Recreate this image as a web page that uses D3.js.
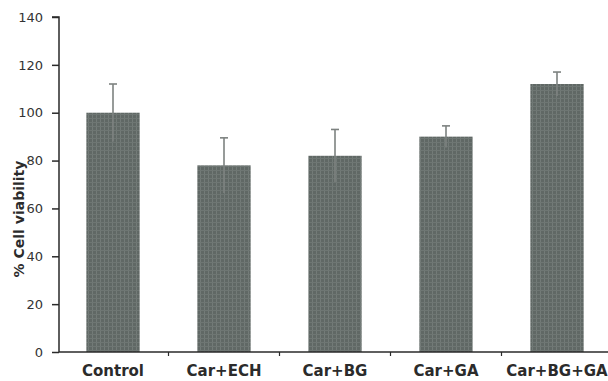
<!DOCTYPE html>
<html>
<head>
<meta charset="utf-8">
<script src="https://cdn.jsdelivr.net/npm/d3@7"></script>
<style>
  body { margin: 0; background: #fff; }
  svg { display: block; }
</style>
</head>
<body>
<svg id="chart" width="608" height="381"></svg>
<script>
// Cell viability per treatment group (mean ± SD)
const categories = ["Control", "Car+ECH", "Car+BG", "Car+GA", "Car+BG+GA"];
const means = [100, 78, 82, 90, 112];
const errors = [12, 11.5, 11, 4.5, 5];
const yTicks = [0, 20, 40, 60, 80, 100, 120, 140];

const svg = d3.select("#chart");
const axisX = 59;
const baseY = 352;
const font = "'DejaVu Sans', Verdana, sans-serif";

const x = d3.scaleBand()
  .domain(categories)
  .range([57.5, 612.5])
  .paddingInner(0.52)
  .paddingOuter(0.26);

const y = d3.scaleLinear().domain([0, 140]).range([baseY, 17]);

const barColor = "#606865";
const axisColor = "#2a2a2a";

// subtle halftone texture for bars
const defs = svg.append("defs");
const pat = defs.append("pattern")
  .attr("id", "tex").attr("width", 4).attr("height", 4)
  .attr("patternUnits", "userSpaceOnUse");
pat.append("rect").attr("width", 4).attr("height", 4).attr("fill", barColor);
pat.append("rect").attr("x", 0).attr("y", 0).attr("width", 1).attr("height", 4).attr("fill", "#737b78");
pat.append("rect").attr("x", 0).attr("y", 2).attr("width", 4).attr("height", 1).attr("fill", "#6e7673");

// bars
svg.selectAll("rect.bar")
  .data(categories)
  .join("rect")
  .attr("class", "bar")
  .attr("x", d => x(d))
  .attr("width", x.bandwidth())
  .attr("y", (d, i) => y(means[i]))
  .attr("height", (d, i) => baseY - y(means[i]))
  .attr("fill", "url(#tex)");

// error bars (upper whisker, drawn from inside the bar)
const errG = svg.append("g").attr("stroke", "#7d8280").attr("stroke-width", 1.6);
categories.forEach((c, i) => {
  const cx = x(c) + x.bandwidth() / 2;
  errG.append("line")
    .attr("x1", cx).attr("x2", cx)
    .attr("y1", y(means[i] - errors[i]))
    .attr("y2", y(means[i] + errors[i]));
  errG.append("line")
    .attr("x1", cx - 4).attr("x2", cx + 4)
    .attr("y1", y(means[i] + errors[i]))
    .attr("y2", y(means[i] + errors[i]));
});

// y axis
const yAxis = svg.append("g")
  .attr("transform", `translate(${axisX},0)`)
  .call(d3.axisLeft(y).tickValues(yTicks).tickSize(7).tickPadding(9));
yAxis.select(".domain").attr("stroke", axisColor).attr("stroke-width", 1.5)
  .attr("d", `M-7,${y(140)}H0V${baseY}`);
yAxis.selectAll(".tick line").attr("stroke", axisColor).attr("stroke-width", 1.5);
yAxis.selectAll(".tick text")
  .attr("fill", "#333")
  .style("font-family", font)
  .style("font-size", "13px");

// x axis
const boundaries = categories.map(c => x(c) + x.bandwidth() + x.step() * x.paddingInner() / 2);
const xAxisG = svg.append("g");
xAxisG.append("line")
  .attr("x1", axisX).attr("x2", 608)
  .attr("y1", baseY).attr("y2", baseY)
  .attr("stroke", axisColor).attr("stroke-width", 1.5);
xAxisG.selectAll("line.tk")
  .data(boundaries)
  .join("line")
  .attr("class", "tk")
  .attr("x1", d => d).attr("x2", d => d)
  .attr("y1", baseY).attr("y2", baseY + 4)
  .attr("stroke", axisColor).attr("stroke-width", 1.2);
xAxisG.selectAll("text")
  .data(categories)
  .join("text")
  .attr("x", d => x(d) + x.bandwidth() / 2)
  .attr("y", 376)
  .attr("text-anchor", "middle")
  .attr("fill", "#2b2b2b")
  .style("font-family", font)
  .style("font-size", "15px")
  .style("font-weight", "bold")
  .text(d => d);

// y axis title
svg.append("text")
  .attr("transform", "translate(24,219) rotate(-90)")
  .attr("text-anchor", "middle")
  .attr("fill", "#2b2b2b")
  .style("font-family", font)
  .style("font-size", "14px")
  .style("font-weight", "bold")
  .text("% Cell viability");
</script>
</body>
</html>
